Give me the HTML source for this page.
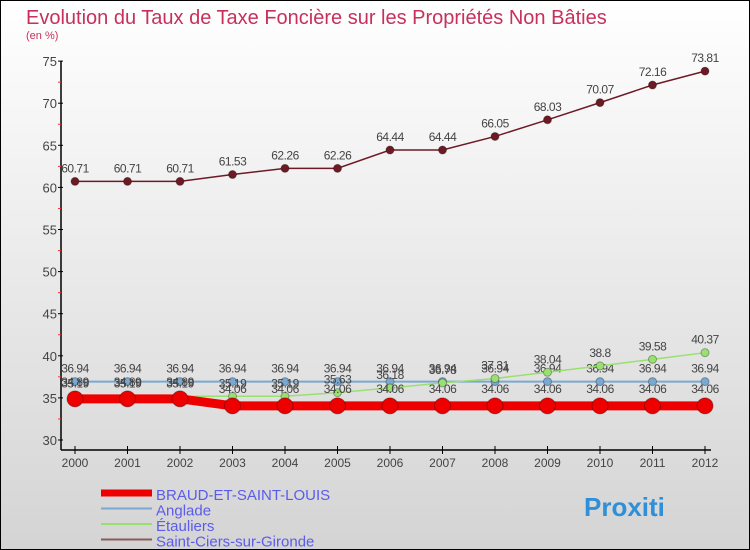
<!DOCTYPE html>
<html><head><meta charset="utf-8"><style>
body{margin:0}
#c{width:748px;height:548px;border:1px solid #000;background:linear-gradient(#fff,#d4d4d4);position:relative;overflow:hidden;font-family:"Liberation Sans",sans-serif}
</style></head><body>
<div id="c">
<svg id="s" width="748" height="548" style="position:absolute;left:0;top:0">
<text x="25" y="23" font-size="20" fill="#c8305c">Evolution du Taux de Taxe Foncière sur les Propriétés Non Bâties</text>
<text x="25" y="38" font-size="11" fill="#c8305c">(en %)</text>
<g id="g"></g>
</svg>
</div>
<script>
const years=[2000,2001,2002,2003,2004,2005,2006,2007,2008,2009,2010,2011,2012];
const braud=[34.89,34.89,34.89,34.06,34.06,34.06,34.06,34.06,34.06,34.06,34.06,34.06,34.06];
const anglade=[36.94,36.94,36.94,36.94,36.94,36.94,36.94,36.94,36.94,36.94,36.94,36.94,36.94];
const etauliers=[35.19,35.19,35.19,35.19,35.19,35.63,36.18,36.78,37.31,38.04,38.8,39.58,40.37];
const stciers=[60.71,60.71,60.71,61.53,62.26,62.26,64.44,64.44,66.05,68.03,70.07,72.16,73.81];
const yTicks=[30,35,40,45,50,55,60,65,70,75];
const NS="http://www.along.org";
const g=document.getElementById('g');
const X=i=>74+i*52.5, Y=v=>439-(v-30)*8.42;
function el(t,a){const e=document.createElementNS("http://www.w3.org/2000/svg",t);for(const k in a)e.setAttribute(k,a[k]);g.appendChild(e);return e;}
let e;
e=el('line',{x1:60,y1:Y(75),x2:60,y2:449,stroke:'#000','stroke-width':1.5});


e=el('line',{x1:60,y1:449,x2:710,y2:449,stroke:'#000','stroke-width':1.5});


yTicks.forEach(v=>{
 e=el('line',{x1:57,y1:Y(v),x2:62,y2:Y(v),stroke:'#000'});
 
 
 if(v<75){e=el('line',{x1:57,y1:Y(v+2.5),x2:60,y2:Y(v+2.5),stroke:'#e33'});
 
 }
 e=el('text',{x:56,y:Y(v)+5,'font-size':13,fill:'#444','text-anchor':'end'});e.textContent=v;
 
 
});
years.forEach((y,i)=>{
 e=el('line',{x1:X(i),y1:445,x2:X(i),y2:453,stroke:'#000'});
 
 
 e=el('text',{x:X(i),y:466,'font-size':12,fill:'#444','text-anchor':'middle'});e.textContent=y;
 
 
});
function series(d,color,w,r,name,dy){
 e=el('polyline',{points:d.map((v,i)=>X(i)+','+Y(v)).join(' '),fill:'none',stroke:color,'stroke-width':w});
 
 
 d.forEach((v,i)=>{
  e=el('circle',{cx:X(i),cy:Y(v),r:r,fill:color,stroke:'rgba(0,0,0,0.3)'});
  
  
  e=el('text',{x:X(i),y:Y(v)+dy,'font-size':12,fill:'#444','text-anchor':'middle','letter-spacing':'-0.5'});e.textContent=v;
  
  
 });
}
series(stciers,'#6e1a24',1.5,4,'saint-ciers',-9);
series(anglade,'#7aa8d0',2,4,'anglade',-9);
series(etauliers,'#99e070',1.5,4,'etauliers',-9);
series(braud,'#ee0000',9,8,'braud',-13);
const leg=[['BRAUD-ET-SAINT-LOUIS','#ee0000',7],['Anglade','#7aa8d0',2],['Étauliers','#99e070',2],['Saint-Ciers-sur-Gironde','#8a5a5a',2]];
leg.forEach((l,i)=>{
 const y=492+i*15.5;
 e=el('line',{x1:100,y1:y,x2:151,y2:y,stroke:l[1],'stroke-width':l[2]});
 
 
 e=el('text',{x:155,y:y+7,'font-size':15,fill:'#5b5bec'});e.textContent=l[0];
 
 
});
e=el('text',{x:583,y:515,'font-size':26,'font-weight':'bold',fill:'#2f8fd8'});e.textContent='Proxiti';


</script>
</body></html>
